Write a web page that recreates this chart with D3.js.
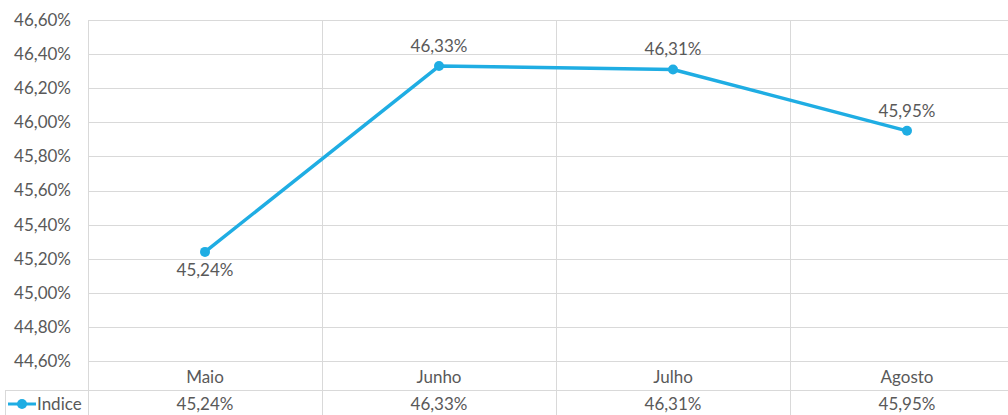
<!DOCTYPE html>
<html lang="pt">
<head>
  <meta charset="UTF-8">
  <title>Indice</title>
  <style>
    body { margin: 0; background: #fff; }
    svg text { font-family: Lato, "Open Sans", sans-serif; fill: #595959; font-size: 17px; }
  </style>
</head>
<body>
  <svg id="chart"></svg>
  <script src="https://d3js.org/d3.v7.min.js"></script>
  <script>
    // dados
    var meses = ['Maio', 'Junho', 'Julho', 'Agosto'];
    var indice = [45.24, 46.33, 46.31, 45.95];
    var yTicks = [44.6, 44.8, 45.0, 45.2, 45.4, 45.6, 45.8, 46.0, 46.2, 46.4, 46.6];
    var serieNome = 'Indice';

    var width = 1008, height = 415;
    var plot = { left: 88, right: 1024, top: 20, bottom: 361 };
    var tableTop = 390;
    var cor = '#1fade3';
    var grid = '#d9d9d9';

    var fmt = function (v) { return v.toFixed(2).replace('.', ',') + '%'; };

    var svg = d3.select('#chart').attr('width', width).attr('height', height);

    var x = d3.scaleBand().domain(meses).range([plot.left, plot.right]);
    var y = d3.scaleLinear().domain([44.6, 46.6]).range([plot.bottom, plot.top]);
    var cx = function (d, i) { return x(meses[i]) + x.bandwidth() / 2; };

    // linhas horizontais
    svg.append('g').selectAll('line')
      .data(yTicks).enter()
      .append('line')
      .attr('x1', plot.left).attr('x2', plot.right)
      .attr('y1', function (d) { return Math.round(y(d)) + 0.5; })
      .attr('y2', function (d) { return Math.round(y(d)) + 0.5; })
      .attr('stroke', grid).attr('stroke-width', 1);

    // linhas verticais (categorias + tabela)
    svg.append('g').selectAll('line')
      .data(meses).enter()
      .append('line')
      .attr('x1', function (d) { return Math.round(x(d)) + 0.5; })
      .attr('x2', function (d) { return Math.round(x(d)) + 0.5; })
      .attr('y1', plot.top).attr('y2', height)
      .attr('stroke', grid);

    // tabela de dados
    svg.append('line')
      .attr('x1', 5).attr('x2', plot.right)
      .attr('y1', tableTop + 0.5).attr('y2', tableTop + 0.5)
      .attr('stroke', grid);
    svg.append('line')
      .attr('x1', 5.5).attr('x2', 5.5)
      .attr('y1', tableTop).attr('y2', height)
      .attr('stroke', grid);

    // rótulos eixo y
    svg.append('g').selectAll('text')
      .data(yTicks).enter()
      .append('text')
      .attr('x', 71)
      .attr('y', function (d) { return y(d); })
      .attr('dy', '0.35em')
      .attr('text-anchor', 'end')
      .text(fmt);

    // rótulos categorias
    svg.append('g').selectAll('text')
      .data(meses).enter()
      .append('text')
      .attr('x', function (d) { return x(d) + x.bandwidth() / 2; })
      .attr('y', 377)
      .attr('dy', '0.35em')
      .attr('text-anchor', 'middle')
      .text(function (d) { return d; });

    // valores na tabela
    svg.append('g').selectAll('text')
      .data(indice).enter()
      .append('text')
      .attr('x', cx)
      .attr('y', 404)
      .attr('dy', '0.35em')
      .attr('text-anchor', 'middle')
      .text(fmt);

    // legenda
    svg.append('line')
      .attr('x1', 8).attr('x2', 36).attr('y1', 404).attr('y2', 404)
      .attr('stroke', cor).attr('stroke-width', 3);
    svg.append('circle')
      .attr('cx', 22).attr('cy', 404).attr('r', 5).attr('fill', cor);
    svg.append('text')
      .attr('x', 37).attr('y', 404).attr('dy', '0.35em')
      .text(serieNome);

    // linha da série
    var line = d3.line()
      .x(cx)
      .y(function (d) { return y(d); });

    svg.append('path')
      .datum(indice)
      .attr('d', line)
      .attr('fill', 'none')
      .attr('stroke', cor)
      .attr('stroke-width', 3.5)
      .attr('stroke-linejoin', 'round');

    svg.append('g').selectAll('circle')
      .data(indice).enter()
      .append('circle')
      .attr('cx', cx)
      .attr('cy', function (d) { return y(d); })
      .attr('r', 5)
      .attr('fill', cor);

    // rótulos de dados (Maio abaixo, demais acima)
    svg.append('g').selectAll('text')
      .data(indice).enter()
      .append('text')
      .attr('x', cx)
      .attr('y', function (d, i) { return i === 0 ? y(d) + 18 : y(d) - 20; })
      .attr('dy', '0.35em')
      .attr('text-anchor', 'middle')
      .text(fmt);
  </script>
</body>
</html>
